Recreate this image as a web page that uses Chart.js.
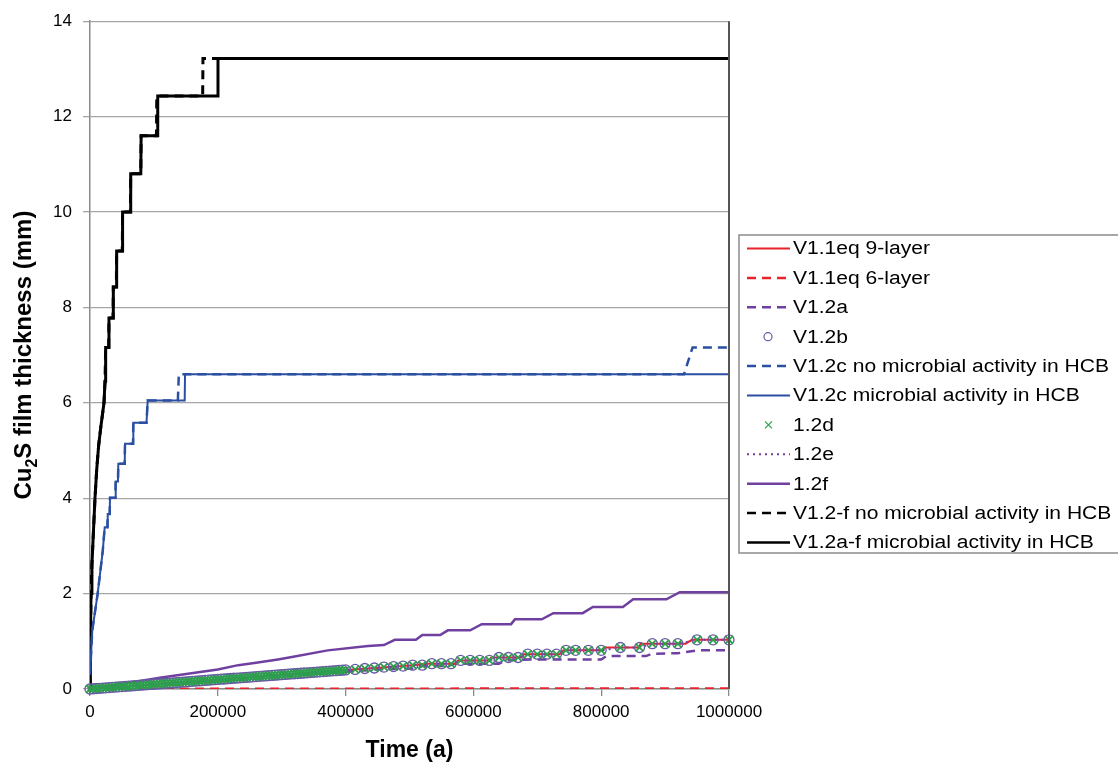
<!DOCTYPE html>
<html>
<head>
<meta charset="utf-8">
<script src="https://cdn.jsdelivr.net/npm/chart.js@4.4.1/dist/chart.umd.min.js"></script>
<style>
  html, body { margin: 0; padding: 0; background: #fff; }
  #wrap { width: 1118px; height: 767px; }
</style>
</head>
<body>
<div id="wrap"><canvas id="cu2s-chart" width="1118" height="767"></canvas></div>
<script>
// x tick labels (a)
var xTicks = [0, 200000, 400000, 600000, 800000, 1000000];
var yTicks = [0, 2, 4, 6, 8, 10, 12, 14];

// V1.1eq 9-layer
var red9T = [0, 100000, 200000, 300000, 400000, 480000, 505000, 527000, 572000, 576000, 624000, 628000, 675000, 679000, 735000, 741000, 801000, 805000, 858000, 862000, 932000, 942000, 1000000];
var red9V = [0, 0.1, 0.2, 0.3, 0.4, 0.47, 0.5, 0.53, 0.53, 0.6, 0.6, 0.66, 0.66, 0.73, 0.73, 0.81, 0.81, 0.87, 0.87, 0.95, 0.95, 1.03, 1.03];

// V1.1eq 6-layer
var red6T = [0, 1000000];
var red6V = [0.005, 0.01];

// V1.2a
var v12aT = [0, 100000, 200000, 300000, 400000, 450000, 510000, 520000, 560000, 570000, 640000, 650000, 690000, 800000, 808000, 870000, 880000, 920000, 950000, 1000000];
var v12aV = [0, 0.09, 0.18, 0.27, 0.36, 0.41, 0.43, 0.48, 0.48, 0.53, 0.53, 0.6, 0.62, 0.62, 0.69, 0.69, 0.74, 0.75, 0.81, 0.81];

// V1.2b, 1.2d, 1.2e (share the same output times, dense at early times)
var markT = [0, 5000, 10000, 15000, 20000, 25000, 30000, 35000, 40000, 45000,
  50000, 55000, 60000, 65000, 70000, 75000, 80000, 85000, 90000, 95000,
  100000, 105000, 110000, 115000, 120000, 125000, 130000, 135000, 140000, 145000,
  150000, 155000, 160000, 165000, 170000, 175000, 180000, 185000, 190000, 195000,
  200000, 205000, 210000, 215000, 220000, 225000, 230000, 235000, 240000, 245000,
  250000, 255000, 260000, 265000, 270000, 275000, 280000, 285000, 290000, 295000,
  300000, 305000, 310000, 315000, 320000, 325000, 330000, 335000, 340000, 345000,
  350000, 355000, 360000, 365000, 370000, 375000, 380000, 385000, 390000, 395000,
  400000, 415000, 430000, 445000, 460000, 475000, 490000, 505000, 520000, 535000,
  550000, 565000, 580000, 595000, 610000, 625000, 640000, 655000, 670000, 685000,
  700000, 715000, 730000, 745000, 760000, 780000, 800000, 830000, 860000, 880000,
  900000, 920000, 950000, 975000, 1000000];
var v12bV = [0, 0.005, 0.01, 0.015, 0.02, 0.025, 0.03, 0.035, 0.04, 0.045,
  0.05, 0.055, 0.06, 0.065, 0.07, 0.075, 0.08, 0.085, 0.09, 0.095,
  0.1, 0.105, 0.11, 0.115, 0.12, 0.125, 0.13, 0.135, 0.14, 0.145,
  0.15, 0.155, 0.16, 0.165, 0.17, 0.175, 0.18, 0.185, 0.19, 0.195,
  0.2, 0.205, 0.21, 0.215, 0.22, 0.225, 0.23, 0.235, 0.24, 0.245,
  0.25, 0.255, 0.26, 0.265, 0.27, 0.275, 0.28, 0.285, 0.29, 0.295,
  0.3, 0.305, 0.31, 0.315, 0.32, 0.325, 0.33, 0.335, 0.34, 0.345,
  0.35, 0.355, 0.36, 0.365, 0.37, 0.375, 0.38, 0.385, 0.39, 0.395,
  0.4, 0.41, 0.43, 0.44, 0.46, 0.47, 0.48, 0.5, 0.5, 0.53,
  0.53, 0.53, 0.6, 0.6, 0.6, 0.6, 0.66, 0.66, 0.66, 0.73,
  0.73, 0.73, 0.73, 0.81, 0.81, 0.81, 0.81, 0.87, 0.87, 0.95,
  0.95, 0.95, 1.03, 1.03, 1.03];
var v12dV = v12bV.slice();
var v12eV = v12bV.slice();

// V1.2c no microbial activity in HCB
var blueNoT = [0, 3600, 12000, 20000, 23000, 27200, 27700, 30800, 31300, 39700, 40200, 43800, 44300, 54300, 54800, 67300, 67800, 88400, 90300, 137500, 139000, 929600, 943000, 1000000];
var blueNoV = [0.3, 1.23, 2.0, 2.9, 3.39, 3.39, 3.67, 3.67, 4.01, 4.01, 4.35, 4.35, 4.72, 4.72, 5.14, 5.14, 5.58, 5.58, 6.05, 6.05, 6.6, 6.6, 7.16, 7.16];

// V1.2c microbial activity in HCB
var blueT = [0, 3600, 12000, 20000, 23000, 27200, 27700, 30800, 31300, 39700, 40200, 43800, 44300, 54300, 54800, 67300, 67800, 88400, 90300, 148200, 148700, 1000000];
var blueV = [0.3, 1.23, 2.0, 2.9, 3.39, 3.39, 3.67, 3.67, 4.01, 4.01, 4.35, 4.35, 4.72, 4.72, 5.14, 5.14, 5.58, 5.58, 6.05, 6.05, 6.6, 6.6];

// 1.2f
var v12fT = [0, 112000, 200000, 232000, 260000, 294000, 316000, 372000, 435000, 460000, 477000, 510000, 520000, 548000, 560000, 595000, 613000, 659000, 665000, 707000,
  725000, 771000, 787000, 834000, 850000, 902000, 923000, 1000000];
var v12fV = [0, 0.24, 0.41, 0.5, 0.55, 0.62, 0.67, 0.81, 0.9, 0.92, 1.03, 1.03, 1.13, 1.13, 1.23, 1.23, 1.36, 1.36, 1.46, 1.46,
  1.59, 1.59, 1.72, 1.72, 1.88, 1.88, 2.03, 2.03];

// V1.2-f no microbial activity in HCB
var blackNoT = [0, 600, 1600, 3000, 5200, 7800, 10500, 13500, 17000, 21900, 23500, 24500, 29200, 29700, 36000, 36500, 41200, 41700, 50500, 51000,
  63200, 63700, 79500, 80000, 104000, 104500, 176300, 176800, 1000000];
var blackNoV = [0, 1.0, 2.0, 2.6, 3.25, 4.0, 4.6, 5.1, 5.5, 6.0, 6.45, 7.16, 7.16, 7.78, 7.78, 8.43, 8.43, 9.18, 9.18, 10.0,
  10.0, 10.8, 10.8, 11.6, 11.6, 12.43, 12.43, 13.22, 13.22];

// V1.2a-f microbial activity in HCB
var blackT = [0, 600, 1600, 3000, 5200, 7800, 10500, 13500, 17000, 21900, 23500, 24500, 29200, 29700, 36000, 36500, 41200, 41700, 50500, 51000,
  63200, 63700, 79500, 80000, 105500, 106000, 199800, 200300, 1000000];
var blackV = [0, 1.0, 2.0, 2.6, 3.25, 4.0, 4.6, 5.1, 5.5, 6.0, 6.45, 7.16, 7.16, 7.78, 7.78, 8.43, 8.43, 9.18, 9.18, 10.0,
  10.0, 10.8, 10.8, 11.6, 11.6, 12.43, 12.43, 13.22, 13.22];

function pts(t, v) {
    var a = [];
    for (var i = 0; i < t.length; i++) {
        a.push({ x: t[i], y: v[i] });
    }
    return a;
}

var RED = '#e8232a', PURPLE = '#7040a0', BLUE = '#2a4fa3', GREEN = '#2ca04c', CIRC = '#6a58a6';

function lineSet(label, t, v, color, width, dash, order) {
    return {
        label: label, data: pts(t, v), borderColor: color, backgroundColor: color,
        borderWidth: width, borderDash: dash, pointRadius: 0, tension: 0, fill: false, order: order
    };
}

var datasets = [
    lineSet('V1.1eq 9-layer', red9T, red9V, RED, 2, [], 5),
    lineSet('V1.1eq 6-layer', red6T, red6V, RED, 2.5, [9, 6], 6),
    lineSet('V1.2a', v12aT, v12aV, PURPLE, 2.5, [9, 6], 7),
    {
        label: 'V1.2b', data: pts(markT, v12bV), showLine: false, pointStyle: 'circle',
        pointRadius: 5, borderColor: CIRC, backgroundColor: 'rgba(0,0,0,0)', pointBorderWidth: 1.3, order: 3, clip: false
    },
    lineSet('V1.2c no microbial activity in HCB', blueNoT, blueNoV, BLUE, 2.5, [9, 6], 9),
    lineSet('V1.2c microbial activity in HCB', blueT, blueV, BLUE, 2, [], 10),
    {
        label: '1.2d', data: pts(markT, v12dV), showLine: false, pointStyle: 'crossRot',
        pointRadius: 5.5, borderColor: GREEN, backgroundColor: GREEN, pointBorderWidth: 1.8, order: 1, clip: false
    },
    lineSet('1.2e', markT, v12eV, PURPLE, 2, [2, 4], 4),
    lineSet('1.2f', v12fT, v12fV, PURPLE, 2.5, [], 8),
    lineSet('V1.2-f no microbial activity in HCB', blackNoT, blackNoV, '#000', 3, [9, 6], 12),
    lineSet('V1.2a-f microbial activity in HCB', blackT, blackV, '#000', 3, [], 11)
];

// legend box drawn by hand (Excel style, line samples with dashes)
var boxLegend = {
    id: 'boxLegend',
    afterDraw: function (chart) {
        var ctx = chart.ctx;
        var left = 739, top = 235, rowH = 29.4, firstY = 248.5;
        ctx.save();
        ctx.strokeStyle = '#8c8c8c';
        ctx.lineWidth = 1.5;
        ctx.strokeRect(left, top, 420, 318);
        ctx.textBaseline = 'middle';
        ctx.fillStyle = '#000';
        var ds = chart.data.datasets;
        for (var i = 0; i < ds.length; i++) {
            var y = firstY + i * rowH;
            var d = ds[i];
            ctx.save();
            if (d.showLine === false) {
                ctx.strokeStyle = d.borderColor;
                ctx.lineWidth = 1.2;
                ctx.beginPath();
                if (d.pointStyle === 'circle') {
                    ctx.arc(768, y, 4, 0, Math.PI * 2);
                } else {
                    ctx.moveTo(765, y - 3.5); ctx.lineTo(772, y + 3.5);
                    ctx.moveTo(772, y - 3.5); ctx.lineTo(765, y + 3.5);
                }
                ctx.stroke();
            } else {
                ctx.strokeStyle = d.borderColor;
                ctx.lineWidth = Math.min(d.borderWidth, 2.5);
                ctx.setLineDash(d.borderDash || []);
                ctx.beginPath();
                ctx.moveTo(747, y);
                ctx.lineTo(790, y);
                ctx.stroke();
            }
            ctx.restore();
            // text in the original is a bit wider than plain Arial
            ctx.save();
            ctx.translate(793, y + 1);
            ctx.scale(1.17, 1);
            ctx.font = '18px "Liberation Sans", Arial, sans-serif';
            ctx.fillText(d.label, 0, 0);
            ctx.restore();
        }
        ctx.restore();
    }
};

// y title with subscript 2 and the right plot border
var extras = {
    id: 'extras',
    afterDraw: function (chart) {
        var ctx = chart.ctx;
        var a = chart.chartArea;
        ctx.save();
        ctx.strokeStyle = '#555';
        ctx.lineWidth = 2;
        ctx.beginPath();
        ctx.moveTo(a.right, a.top);
        ctx.lineTo(a.right, a.bottom);
        ctx.stroke();
        ctx.restore();

        ctx.save();
        ctx.fillStyle = '#000';
        ctx.textBaseline = 'alphabetic';
        var big = 'bold 24px "Liberation Sans", Arial, sans-serif';
        var small = 'bold 16px "Liberation Sans", Arial, sans-serif';
        ctx.font = big;
        var w1 = ctx.measureText('Cu').width;
        var w3 = ctx.measureText('S film thickness (mm)').width;
        ctx.font = small;
        var w2 = ctx.measureText('2').width;
        var total = w1 + w2 + w3;
        ctx.translate(31, (a.top + a.bottom) / 2);
        ctx.rotate(-Math.PI / 2);
        var x = -total / 2;
        ctx.font = big;
        ctx.fillText('Cu', x, 0);
        ctx.font = small;
        ctx.fillText('2', x + w1, 6);
        ctx.font = big;
        ctx.fillText('S film thickness (mm)', x + w1 + w2, 0);
        ctx.restore();
    }
};

new Chart(document.getElementById('cu2s-chart'), {
    type: 'line',
    data: { datasets: datasets },
    options: {
        responsive: false,
        animation: false,
        devicePixelRatio: 1,
        layout: { padding: { top: 18, right: 389, left: 0, bottom: 0 } },
        plugins: { legend: { display: false }, tooltip: { enabled: false } },
        scales: {
            x: {
                type: 'linear',
                min: 0,
                max: 1000000,
                afterBuildTicks: function (s) { s.ticks = xTicks.map(function (v) { return { value: v }; }); },
                afterFit: function (s) { s.height = 78; },
                ticks: {
                    color: '#000',
                    font: { size: 17, family: '"Liberation Sans", Arial, sans-serif' },
                    padding: 6,
                    maxRotation: 0,
                    callback: function (v) { return String(v); }
                },
                grid: { drawOnChartArea: false, color: '#8a8a8a', tickLength: 7, lineWidth: 1.3 },
                border: { color: '#8a8a8a', width: 1.5 },
                title: {
                    display: true,
                    text: 'Time (a)',
                    color: '#000',
                    font: { size: 23, weight: 'bold', family: '"Liberation Sans", Arial, sans-serif' },
                    padding: { top: 0, bottom: 3 }
                }
            },
            y: {
                type: 'linear',
                min: 0,
                max: 14,
                afterBuildTicks: function (s) { s.ticks = yTicks.map(function (v) { return { value: v }; }); },
                afterFit: function (s) { s.width = 90; },
                ticks: {
                    color: '#000',
                    font: { size: 17, family: '"Liberation Sans", Arial, sans-serif' },
                    padding: 11
                },
                grid: { color: '#a6a6a6', tickLength: 7, lineWidth: 1.3 },
                border: { color: '#8a8a8a', width: 1.5 }
            }
        }
    },
    plugins: [boxLegend, extras]
});
</script>
</body>
</html>
